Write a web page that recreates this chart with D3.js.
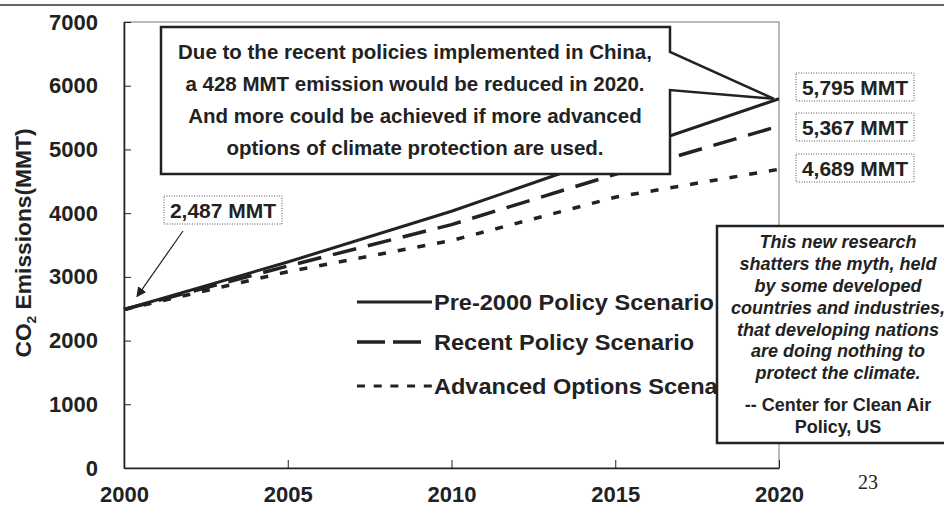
<!DOCTYPE html>
<html>
<head>
<meta charset="utf-8">
<script src="https://cdn.jsdelivr.net/npm/d3@7"></script>
<style>
  html, body { margin: 0; padding: 0; background: #fff; }
  svg { display: block; font-family: "Liberation Sans", Arial, sans-serif; }
</style>
</head>
<body>
<svg id="chart" width="944" height="512"></svg>
<script>
// Projected CO2 emissions of China under three policy scenarios (MMT)
const years = [2000, 2005, 2010, 2015, 2020];
const pre2000Policy = [2487, 3233, 4030, 4920, 5795];
const recentPolicy = [2487, 3170, 3820, 4610, 5367];
const advancedOptions = [2487, 3080, 3570, 4250, 4689];
const seriesNames = ["Pre-2000 Policy Scenario", "Recent Policy Scenario", "Advanced Options Scenario"];
const yTickValues = [0, 1000, 2000, 3000, 4000, 5000, 6000, 7000];
const xTickValues = [2000, 2005, 2010, 2015, 2020];

const calloutLines = [
  "Due to the recent policies implemented in China,",
  "a 428 MMT emission would be reduced in 2020.",
  "And more could be achieved if more advanced",
  "options of climate protection are used."
];
const quoteLines = [
  "This new research",
  "shatters the myth, held",
  "by some developed",
  "countries and industries,",
  "that developing nations",
  "are doing nothing to",
  "protect the climate."
];
const sourceLines = ["-- Center for Clean Air", "Policy, US"];
const pageNumber = "23";

const ink = "#222";
const svg = d3.select("#chart");

const margin = { left: 124, right: 779, top: 22, bottom: 468 };
const x = d3.scaleLinear().domain([2000, 2020]).range([margin.left, margin.right]);
const y = d3.scaleLinear().domain([0, 7000]).range([margin.bottom, margin.top]);

// rule across the top of the slide
svg.append("line")
  .attr("x1", 0).attr("x2", 944).attr("y1", 5).attr("y2", 5)
  .attr("stroke", "#333").attr("stroke-width", 1.5);

// plot frame
svg.append("rect")
  .attr("x", margin.left).attr("y", margin.top)
  .attr("width", margin.right - margin.left).attr("height", margin.bottom - margin.top)
  .attr("fill", "none").attr("stroke", "#777").attr("stroke-width", 1);

// axes
const yAxis = svg.append("g")
  .attr("transform", `translate(${margin.left},0)`)
  .call(d3.axisLeft(y).tickValues(yTickValues).tickFormat(d3.format("d"))
    .tickSizeInner(-7).tickSizeOuter(0).tickPadding(26));
const xAxis = svg.append("g")
  .attr("transform", `translate(0,${margin.bottom})`)
  .call(d3.axisBottom(x).tickValues(xTickValues).tickFormat(d3.format("d"))
    .tickSizeInner(-8).tickSizeOuter(0).tickPadding(18));

[yAxis, xAxis].forEach(g => {
  g.select(".domain").attr("stroke", ink).attr("stroke-width", 1.6);
  g.selectAll(".tick line").attr("stroke", ink).attr("stroke-width", 1);
  g.selectAll(".tick text")
    .attr("fill", ink)
    .style("font-size", "22px")
    .style("font-weight", "bold")
    .style("font-family", "'Liberation Sans', Arial, sans-serif");
});

// y axis title
svg.append("text")
  .attr("transform", `translate(31,${(margin.top + margin.bottom) / 2 - 2}) rotate(-90) scale(1.06,1)`)
  .attr("text-anchor", "middle")
  .attr("fill", ink)
  .style("font-size", "21.5px").style("font-weight", "bold")
  .call(t => {
    t.append("tspan").text("CO");
    t.append("tspan").attr("dy", 5).style("font-size", "13px").text("2");
    t.append("tspan").attr("dy", -5).text(" Emissions(MMT)");
  });

// scenario lines
const styles = [
  { data: pre2000Policy, width: 3, dash: null, legendDash: null },
  { data: recentPolicy, width: 3.5, dash: "24,12", legendDash: "28,8" },
  { data: advancedOptions, width: 3.5, dash: "8,12", legendDash: "8,8.7" }
];
const line = d3.line().x((d, i) => x(years[i])).y(d => y(d));

styles.slice().reverse().forEach(s => {
  svg.append("path")
    .datum(s.data)
    .attr("d", line)
    .attr("fill", "none")
    .attr("stroke", ink)
    .attr("stroke-width", s.width)
    .attr("stroke-dasharray", s.dash);
});

// legend
const legendY = [302, 342, 386];
styles.forEach((s, i) => {
  svg.append("line")
    .attr("x1", 357).attr("x2", i === 1 ? 421 : 432)
    .attr("y1", legendY[i]).attr("y2", legendY[i])
    .attr("stroke", ink).attr("stroke-width", i === 2 ? 3 : s.width)
    .attr("stroke-dasharray", s.legendDash);
  svg.append("text")
    .attr("transform", `translate(434,${legendY[i]}) scale(1.07,1)`)
    .attr("dy", "0.36em")
    .attr("fill", ink)
    .style("font-size", "22px").style("font-weight", "bold")
    .text(seriesNames[i]);
});

// value labels
const fmt = d3.format(",");
function valueLabel(cx, cy, value) {
  const g = svg.append("g");
  g.append("rect")
    .attr("x", cx - 59).attr("y", cy - 14).attr("width", 118).attr("height", 28)
    .attr("fill", "white").attr("stroke", "#555").attr("stroke-width", 1)
    .attr("stroke-dasharray", "1,1.5");
  g.append("text")
    .attr("x", cx).attr("y", cy).attr("dy", "0.36em")
    .attr("text-anchor", "middle").attr("fill", ink)
    .style("font-size", "21px").style("font-weight", "bold")
    .text(fmt(value) + " MMT");
}
styles.forEach((s, i) => valueLabel(855, [87, 127, 168][i], s.data[s.data.length - 1]));
valueLabel(223, 210, pre2000Policy[0]);

// arrow pointing at the 2000 starting value
svg.append("defs").append("marker")
  .attr("id", "head").attr("viewBox", "0 0 10 10")
  .attr("refX", 9).attr("refY", 5)
  .attr("markerWidth", 10).attr("markerHeight", 10)
  .attr("markerUnits", "userSpaceOnUse")
  .attr("orient", "auto")
  .append("path").attr("d", "M0,0 L10,5 L0,10 Z").attr("fill", ink);
svg.append("line")
  .attr("x1", 183).attr("y1", 231)
  .attr("x2", x(2000) + 13).attr("y2", y(pre2000Policy[0]) - 13)
  .attr("stroke", ink).attr("stroke-width", 1.2)
  .attr("marker-end", "url(#head)");

// callout pointing at the 2020 pre-2000 value
const tipX = x(2020) - 5, tipY = y(pre2000Policy[pre2000Policy.length - 1]);
svg.append("path")
  .attr("d", `M161,27 H670 V52 L${tipX},${tipY} L670,90 V174 H161 Z`)
  .attr("fill", "white").attr("stroke", ink).attr("stroke-width", 2.5)
  .attr("stroke-linejoin", "miter");
svg.append("text")
  .attr("text-anchor", "middle").attr("fill", ink)
  .style("font-size", "20.5px").style("font-weight", "bold")
  .selectAll("tspan").data(calloutLines).join("tspan")
  .attr("x", 415).attr("y", (d, i) => 52 + i * 32).attr("dy", "0.36em")
  .text(d => d);

// quotation box
svg.append("rect")
  .attr("x", 717).attr("y", 226).attr("width", 260).attr("height", 217)
  .attr("fill", "white").attr("stroke", ink).attr("stroke-width", 2.5);
svg.append("text")
  .attr("text-anchor", "middle").attr("fill", ink)
  .style("font-size", "18px").style("font-weight", "bold").style("font-style", "italic")
  .selectAll("tspan").data(quoteLines).join("tspan")
  .attr("x", 838).attr("y", (d, i) => 242 + i * 21.8).attr("dy", "0.36em")
  .text(d => d);
svg.append("text")
  .attr("text-anchor", "middle").attr("fill", ink)
  .style("font-size", "18px").style("font-weight", "bold")
  .selectAll("tspan").data(sourceLines).join("tspan")
  .attr("x", 838).attr("y", (d, i) => 405 + i * 22).attr("dy", "0.36em")
  .text(d => d);

// page number
svg.append("text")
  .attr("x", 868).attr("y", 482).attr("dy", "0.36em")
  .attr("text-anchor", "middle").attr("fill", ink)
  .style("font-family", "'Liberation Serif', 'Times New Roman', serif")
  .style("font-size", "20px")
  .text(pageNumber);
</script>
</body>
</html>
